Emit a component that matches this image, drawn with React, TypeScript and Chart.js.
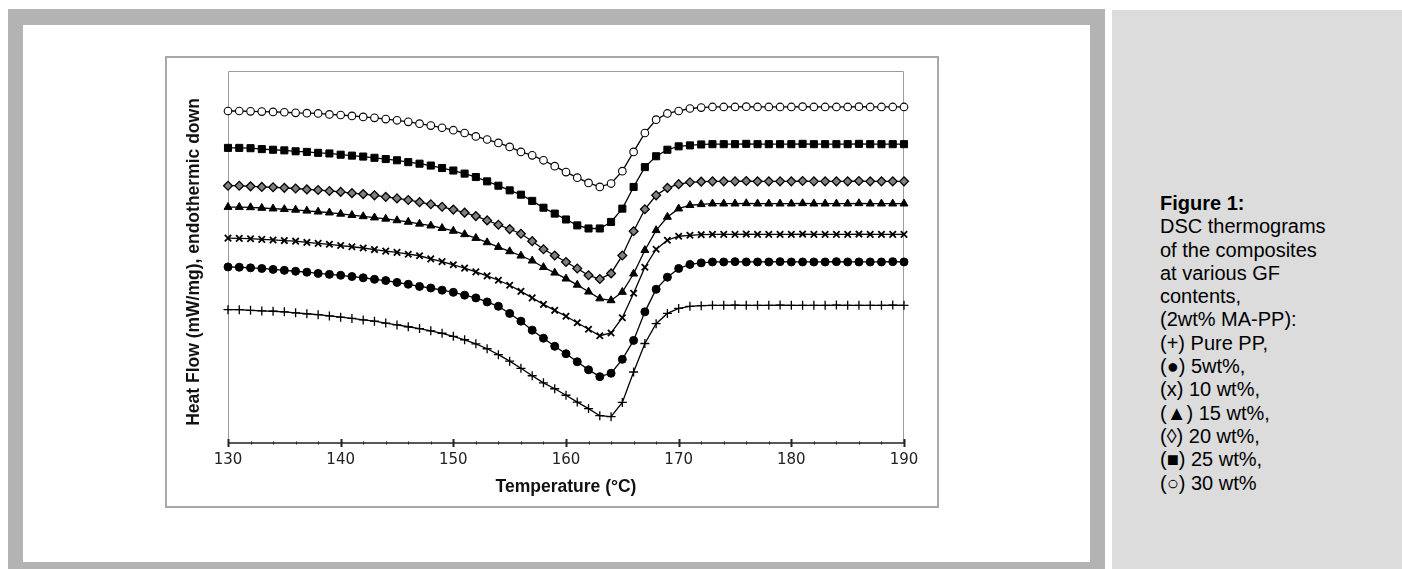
import React, { useEffect, useRef } from "react";
import { Chart, registerables } from "chart.js";

Chart.register(...registerables);

// Temperature (°C)
const temperature = [
  130, 131, 132, 133, 134, 135, 136, 137, 138, 139, 140, 141, 142, 143, 144, 145, 146, 147, 148, 149,
  150, 151, 152, 153, 154, 155, 156, 157, 158, 159, 160, 161, 162, 163, 164, 165, 166, 167, 168, 169,
  170, 171, 172, 173, 174, 175, 176, 177, 178, 179, 180, 181, 182, 183, 184, 185, 186, 187, 188, 189, 190,
];

// Heat flow (arbitrary offset units), one curve per GF content
const purePP = [
  4.30, 4.30, 4.28, 4.26, 4.25, 4.23, 4.20, 4.17, 4.14, 4.10, 4.06, 4.02, 3.97, 3.93, 3.87, 3.81, 3.75, 3.69,
  3.62, 3.54, 3.44, 3.33, 3.20, 3.04, 2.85, 2.64, 2.41, 2.17, 1.94, 1.75, 1.54, 1.32, 1.11, 0.88, 0.85,
  1.31, 2.29, 3.21, 3.85, 4.18, 4.34, 4.41, 4.43,
  4.44, 4.44, 4.45, 4.44, 4.44, 4.44, 4.45, 4.44, 4.44, 4.44, 4.44, 4.45, 4.44, 4.44, 4.44, 4.44, 4.45, 4.44,
];
const gf5 = [
  5.68, 5.67, 5.65, 5.63, 5.60, 5.57, 5.54, 5.51, 5.47, 5.44, 5.41, 5.37, 5.33, 5.28, 5.24, 5.18, 5.12, 5.05,
  5.00, 4.93, 4.86, 4.77, 4.68, 4.55, 4.41, 4.18, 3.93, 3.64, 3.38, 3.12, 2.88, 2.62, 2.36, 2.14, 2.25,
  2.70, 3.31, 4.23, 4.96, 5.35, 5.63, 5.76, 5.81,
  5.84, 5.84, 5.85, 5.84, 5.84, 5.84, 5.85, 5.84, 5.84, 5.84, 5.84, 5.85, 5.84, 5.84, 5.84, 5.84, 5.85, 5.84,
];
const gf10 = [
  6.61, 6.60, 6.59, 6.57, 6.55, 6.53, 6.51, 6.47, 6.44, 6.41, 6.37, 6.33, 6.29, 6.24, 6.19, 6.15, 6.09, 6.04,
  5.94, 5.85, 5.75, 5.64, 5.52, 5.39, 5.25, 5.09, 4.89, 4.68, 4.47, 4.28, 4.09, 3.88, 3.67, 3.46, 3.55,
  4.04, 4.83, 5.67, 6.25, 6.54, 6.67, 6.70, 6.72,
  6.73, 6.73, 6.73, 6.74, 6.73, 6.73, 6.73, 6.73, 6.74, 6.73, 6.73, 6.73, 6.73, 6.74, 6.73, 6.73, 6.73, 6.73,
];
const gf15 = [
  7.61, 7.61, 7.60, 7.58, 7.56, 7.54, 7.52, 7.49, 7.46, 7.43, 7.39, 7.35, 7.31, 7.27, 7.23, 7.18, 7.13, 7.07,
  7.01, 6.93, 6.84, 6.73, 6.61, 6.47, 6.32, 6.18, 6.04, 5.88, 5.67, 5.49, 5.30, 5.10, 4.88, 4.66, 4.60,
  4.87, 5.46, 6.22, 6.86, 7.29, 7.56, 7.67, 7.70,
  7.72, 7.72, 7.72, 7.73, 7.72, 7.72, 7.72, 7.72, 7.73, 7.72, 7.72, 7.72, 7.72, 7.73, 7.72, 7.72, 7.72, 7.72,
];
const gf20 = [
  8.30, 8.30, 8.28, 8.26, 8.25, 8.23, 8.21, 8.18, 8.16, 8.13, 8.10, 8.06, 8.03, 7.99, 7.94, 7.89, 7.84, 7.77,
  7.70, 7.62, 7.53, 7.43, 7.32, 7.18, 7.04, 6.90, 6.75, 6.51, 6.25, 6.05, 5.84, 5.63, 5.41, 5.29, 5.47,
  6.05, 6.83, 7.54, 7.99, 8.23, 8.35, 8.41, 8.43,
  8.44, 8.44, 8.44, 8.45, 8.44, 8.44, 8.44, 8.44, 8.45, 8.44, 8.44, 8.44, 8.44, 8.45, 8.44, 8.44, 8.44, 8.44,
];
const gf25 = [
  9.52, 9.52, 9.51, 9.48, 9.46, 9.44, 9.41, 9.39, 9.36, 9.34, 9.30, 9.27, 9.24, 9.20, 9.16, 9.12, 9.06, 9.01,
  8.95, 8.87, 8.79, 8.69, 8.58, 8.44, 8.30, 8.15, 8.01, 7.81, 7.59, 7.40, 7.21, 7.02, 6.92, 6.92, 7.13,
  7.56, 8.26, 8.90, 9.25, 9.46, 9.57, 9.60, 9.63,
  9.64, 9.64, 9.64, 9.65, 9.64, 9.64, 9.64, 9.64, 9.65, 9.64, 9.64, 9.64, 9.64, 9.65, 9.64, 9.64, 9.64, 9.64,
];
const gf30 = [
  10.71, 10.71, 10.70, 10.69, 10.68, 10.67, 10.65, 10.64, 10.63, 10.60, 10.58, 10.55, 10.52, 10.49, 10.45, 10.41, 10.36, 10.30,
  10.24, 10.17, 10.09, 10.00, 9.89, 9.79, 9.68, 9.55, 9.39, 9.28, 9.12, 8.93, 8.74, 8.56, 8.39, 8.26, 8.37,
  8.77, 9.39, 10.00, 10.43, 10.63, 10.71, 10.79, 10.82,
  10.84, 10.84, 10.84, 10.85, 10.84, 10.84, 10.84, 10.84, 10.85, 10.84, 10.84, 10.84, 10.84, 10.85, 10.84, 10.84, 10.84, 10.84,
];

const seriesLabels = ["Pure PP", "5 wt%", "10 wt%", "15 wt%", "20 wt%", "25 wt%", "30 wt%"];
const xTickLabels = [130, 140, 150, 160, 170, 180, 190];
const xMinorStep = 2;
const yTitle = "Heat Flow (mW/mg), endothermic down";
const xTitle = "Temperature (\u00B0C)";

const captionLines = [
  "DSC thermograms",
  "of the composites",
  "at various GF",
  "contents,",
  "(2wt% MA-PP):",
  "(+) Pure PP,",
  "(\u25CF) 5wt%,",
  "(x) 10 wt%,",
  "(\u25B2) 15 wt%,",
  "(\u25CA) 20 wt%,",
  "(\u25A0) 25 wt%,",
  "(\u25CB) 30 wt%",
];

const framePlugin = {
  id: "frameTicks",
  beforeDatasetsDraw(chart: any) {
    const { ctx, chartArea, scales } = chart;
    const { left, right, top, bottom } = chartArea;
    const x = scales.x;
    ctx.save();
    ctx.strokeStyle = "#9c9c9c";
    ctx.lineWidth = 1;
    ctx.beginPath();
    ctx.moveTo(left + 0.5, bottom);
    ctx.lineTo(left + 0.5, top + 0.5);
    ctx.lineTo(right - 0.5, top + 0.5);
    ctx.lineTo(right - 0.5, bottom);
    ctx.stroke();
    ctx.strokeStyle = "#222";
    ctx.lineWidth = 1.5;
    ctx.beginPath();
    ctx.moveTo(left, bottom);
    ctx.lineTo(right, bottom);
    ctx.stroke();
    const first = xTickLabels[0];
    const last = xTickLabels[xTickLabels.length - 1];
    for (let t = first; t <= last; t += xMinorStep) {
      const px = Math.round(x.getPixelForValue(t)) + 0.5;
      const major = xTickLabels.includes(t);
      ctx.lineWidth = major ? 2 : 1;
      const h = major ? 4 : 1.5;
      ctx.beginPath();
      ctx.moveTo(px, bottom - h);
      ctx.lineTo(px, bottom + h);
      ctx.stroke();
    }
    // vertical axis title, centred a little below the plot centre as in the source
    ctx.fillStyle = "#111";
    ctx.font = "bold 17.5px 'Liberation Sans', Arial, sans-serif";
    ctx.textAlign = "center";
    ctx.textBaseline = "middle";
    ctx.translate(27, (top + bottom) / 2 + 5);
    ctx.rotate(-Math.PI / 2);
    ctx.fillText(yTitle, 0, 0);
    ctx.restore();
  },
};

const styles: any[] = [
  { pointStyle: "cross", radius: 4.5, bg: "#000", bw: 1.3 },
  { pointStyle: "circle", radius: 4, bg: "#000", bw: 1 },
  { pointStyle: "crossRot", radius: 4.5, bg: "#000", bw: 1.8 },
  { pointStyle: "triangle", radius: 4.6, bg: "#000", bw: 1 },
  { pointStyle: "rectRot", radius: 4.4, bg: "#808080", bw: 1.3 },
  { pointStyle: "rect", radius: 5, bg: "#000", bw: 1 },
  { pointStyle: "circle", radius: 3.8, bg: "#fff", bw: 1.1 },
];

export default function App() {
  const canvasRef = useRef<HTMLCanvasElement | null>(null);

  useEffect(() => {
    if (!canvasRef.current) return;
    const all = [purePP, gf5, gf10, gf15, gf20, gf25, gf30];
    const datasets = all.map((vals, i) => ({
      label: seriesLabels[i],
      data: temperature.map((t, j) => ({ x: t, y: vals[j] })),
      borderColor: "#000",
      borderWidth: 1.3,
      backgroundColor: styles[i].bg,
      pointStyle: styles[i].pointStyle,
      pointRadius: styles[i].radius,
      pointBackgroundColor: styles[i].bg,
      pointBorderColor: "#000",
      pointBorderWidth: styles[i].bw,
      tension: 0,
      clip: false as any,
    }));
    const chart = new Chart(canvasRef.current, {
      type: "line",
      data: { datasets },
      plugins: [framePlugin],
      options: {
        animation: false,
        responsive: false,
        maintainAspectRatio: false,
        layout: { padding: { top: 13, right: 33, left: 0, bottom: 0 } },
        plugins: { legend: { display: false }, tooltip: { enabled: false } },
        scales: {
          x: {
            type: "linear",
            min: 130,
            max: 190,
            afterFit: (s: any) => {
              s.height = 63;
            },
            afterBuildTicks: (s: any) => {
              s.ticks = xTickLabels.map((v) => ({ value: v }));
            },
            grid: { display: false, drawTicks: false },
            border: { display: false },
            ticks: {
              padding: 8,
              color: "#222",
              font: { family: "DejaVu Sans", size: 15 },
              maxRotation: 0,
            },
            title: {
              display: true,
              text: xTitle,
              color: "#111",
              font: { family: "Liberation Sans", size: 17.5, weight: "bold" },
              padding: { top: 0, bottom: 8.5 },
            },
          },
          y: {
            type: "linear",
            min: 0,
            max: 12,
            afterFit: (s: any) => {
              s.width = 61;
            },
            grid: { display: false, drawTicks: false },
            border: { display: false },
            ticks: { display: false },
            title: { display: false },
          },
        },
      },
    });
    return () => chart.destroy();
  }, []);

  return (
    <div
      style={{
        position: "fixed",
        left: 0,
        top: 0,
        width: 1402,
        height: 569,
        overflow: "hidden",
        background: "#fff",
        fontFamily: "'Liberation Sans', Arial, sans-serif",
      }}
    >
      <div style={{ position: "absolute", left: 8, top: 9, width: 1097, height: 570, background: "#b3b3b3" }} />
      <div style={{ position: "absolute", left: 23, top: 25, width: 1067, height: 537, background: "#fff" }} />
      <div style={{ position: "absolute", left: 1112, top: 10, width: 290, height: 569, background: "#dcdcdc" }} />
      <div
        style={{
          position: "absolute",
          left: 165,
          top: 56,
          width: 770,
          height: 448,
          border: "2px solid #a8a8a8",
        }}
      />
      <canvas
        ref={canvasRef}
        width={770}
        height={448}
        style={{ position: "absolute", left: 167, top: 58, width: 770, height: 448 }}
      />
      <div
        style={{
          position: "absolute",
          left: 1160,
          top: 192,
          fontSize: 20,
          lineHeight: "23.3px",
          color: "#000",
          whiteSpace: "nowrap",
        }}
      >
        <div style={{ fontWeight: "bold" }}>Figure 1:</div>
        {captionLines.map((l, i) => (
          <div key={i}>{l}</div>
        ))}
      </div>
    </div>
  );
}
